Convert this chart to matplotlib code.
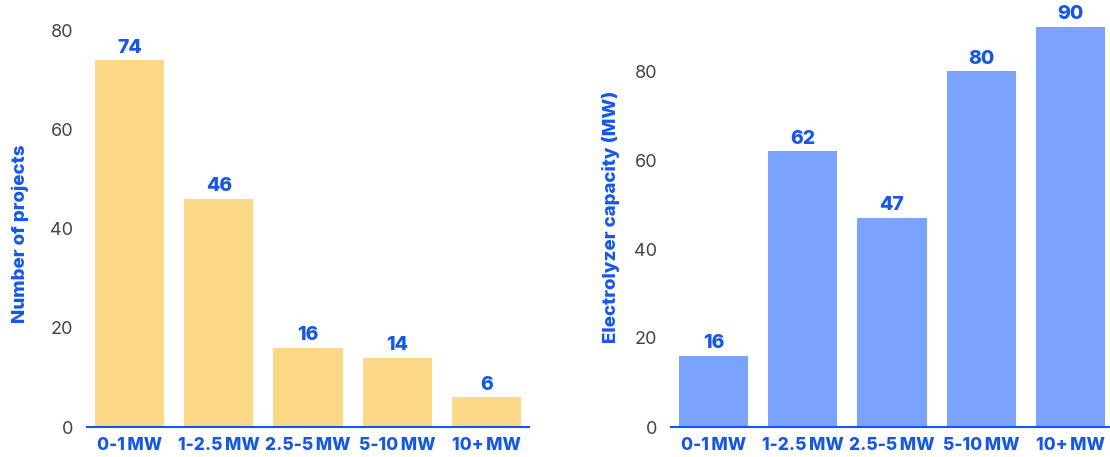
import matplotlib
matplotlib.use("Agg")
import matplotlib.pyplot as plt

categories = ["0-1\u2009MW", "1-2.5\u2009MW", "2.5-5\u2009MW", "5-10\u2009MW", "10+\u2009MW"]
project_counts = [74, 46, 16, 14, 6]
capacity_mw = [16, 62, 47, 80, 90]
y_ticks = [0, 20, 40, 60, 80]

BLUE = "#1558e8"
GREY = "#444444"
YELLOW = "#fdd887"
LIGHT_BLUE = "#79a3fe"

plt.rcParams["font.family"] = ["Inter", "DejaVu Sans"]

fig = plt.figure(figsize=(11.10, 4.57), dpi=100)
ax_l = fig.add_axes([87 / 1110, 30 / 457, 442 / 1110, 407 / 457])
ax_r = fig.add_axes([671 / 1110, 30 / 457, 442 / 1110, 407 / 457])


def draw(ax, values, color, ylabel, ytop, label_x, label_y):
    x = range(len(categories))
    bars = ax.bar(x, values, width=0.775, color=color, zorder=2)
    for b, v in zip(bars, values):
        ax.annotate(f"{v}", (b.get_x() + b.get_width() / 2, v),
                    xytext=(0, 2.5), textcoords="offset points",
                    ha="center", va="bottom", fontsize=14,
                    fontweight="heavy", color=BLUE)
    ax.set_xlim(-0.48, 4.48)
    ax.set_ylim(0, ytop)
    ax.set_xticks(list(x))
    ax.set_xticklabels(categories, fontsize=12.5, fontweight="heavy", color=BLUE)
    ax.set_yticks(y_ticks)
    ax.set_yticklabels([str(t) for t in y_ticks], fontsize=13, color=GREY)
    ax.tick_params(axis="x", length=0, pad=7)
    ax.tick_params(axis="y", length=0, pad=10)
    for s in ("top", "right", "left"):
        ax.spines[s].set_visible(False)
    ax.spines["bottom"].set_color(BLUE)
    ax.spines["bottom"].set_linewidth(1.5)
    ax.spines["bottom"].set_zorder(3)
    ax.set_ylabel(ylabel, fontsize=13.5, fontweight="heavy", color=BLUE)
    ax.yaxis.set_label_coords(label_x, label_y)


draw(ax_l, project_counts, YELLOW, "Number of projects",
     407 / (367 / 74), -58 / 442, 0.474)
draw(ax_r, capacity_mw, LIGHT_BLUE, "Electrolyzer capacity (MW)",
     407 / 4.45, -51 / 442, 0.516)

fig.savefig("out.png", dpi=100)
